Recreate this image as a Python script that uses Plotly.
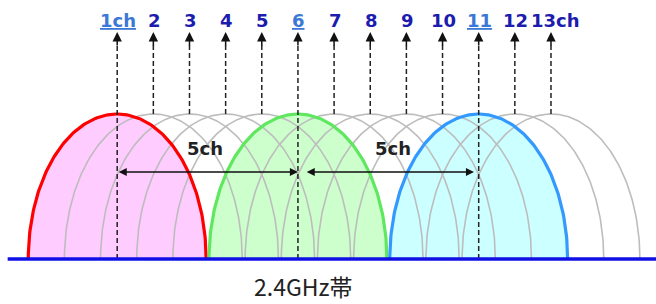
import numpy as np
import plotly.graph_objects as go

# ---- data ----
channels = list(range(1, 14))
channel_labels = ["1ch", "2", "3", "4", "5", "6", "7", "8", "9", "10", "11", "12", "13ch"]
main_channels = [1, 6, 11]
main_fill = ["#ffccff", "#ccffcc", "#ccffff"]
main_line = ["#ff0000", "#5fe85f", "#3399ff"]
gap_pairs = [(1, 6), (6, 11)]
gap_text = "5ch"
band_label = "2.4GHz帯"

# ---- geometry constants (channel units / pixel-like units) ----
HALF = 2.46      # half width of a channel lobe in channel units
H = 145          # lobe height
ARROW_TIP = 227
DASH_TOP = 214
LABEL_Y = 239
GAP_Y = 87
GAP_TEXT_Y = 111

t = np.linspace(0, np.pi, 160)

fig = go.Figure()

# fills of main channels
for c, fc in zip(main_channels, main_fill):
    fig.add_trace(go.Scatter(x=c + HALF * np.cos(t), y=H * np.sin(t), mode="lines",
                             fill="toself", fillcolor=fc, line=dict(width=0),
                             hoverinfo="skip"))

# gray outlines of other channels
for c in channels:
    if c in main_channels:
        continue
    fig.add_trace(go.Scatter(x=c + HALF * np.cos(t), y=H * np.sin(t), mode="lines",
                             line=dict(color="#bdbdbd", width=1.6), hoverinfo="skip"))

# colored outlines
for c, lc in zip(main_channels, main_line):
    fig.add_trace(go.Scatter(x=c + HALF * np.cos(t), y=H * np.sin(t), mode="lines",
                             line=dict(color=lc, width=3.2), hoverinfo="skip"))

# dashed vertical lines
for c in channels:
    y0 = 0 if c in main_channels else H
    fig.add_trace(go.Scatter(x=[c, c], y=[y0, DASH_TOP], mode="lines",
                             line=dict(color="#222222", width=1.5, dash="5px,3px"),
                             hoverinfo="skip"))

# baseline
fig.add_trace(go.Scatter(x=[-2.03, 16.5], y=[0, 0], mode="lines",
                         line=dict(color="#1010e6", width=3.6), hoverinfo="skip"))

annotations = []
for c, lab in zip(channels, channel_labels):
    # arrow heads
    annotations.append(dict(x=c, y=ARROW_TIP, ax=c, ay=DASH_TOP - 2, xref="x", yref="y",
                            axref="x", ayref="y", text="", showarrow=True, arrowhead=2,
                            arrowsize=1.25, arrowwidth=1.5, arrowcolor="#111111", standoff=0))
    main = c in main_channels
    annotations.append(dict(x=c, y=LABEL_Y, xref="x", yref="y", showarrow=False,
                            text=f"<u>{lab}</u>" if main else lab,
                            xshift=5 if lab.endswith("ch") and c != 1 else 1,
                            font=dict(family="DejaVu Sans", size=18,
                                      color="#3a78d8" if main else "#1c1cae",
                                      weight="bold"),
                            xanchor="center", yanchor="middle"))

for i, (a, b) in enumerate(gap_pairs):
    start = a + (0.0 if i == 0 else 0.2)
    end = b - (0.0 if i == 0 else 0.13)
    annotations.append(dict(x=end, y=GAP_Y, ax=start, ay=GAP_Y, xref="x", yref="y",
                            axref="x", ayref="y", text="", showarrow=True,
                            arrowhead=2, startarrowhead=2, arrowside="end+start",
                            arrowsize=1.15, startarrowsize=1.15, arrowwidth=1.4,
                            arrowcolor="#111111", standoff=0, startstandoff=0))
    annotations.append(dict(x=(a + b) / 2 - 0.07 + 0.2 * i, y=GAP_TEXT_Y, xref="x", yref="y",
                            showarrow=False, text=gap_text,
                            font=dict(family="DejaVu Sans", size=18, color="#222222",
                                      weight="bold")))

annotations.append(dict(x=302.5 / 656, y=0, xref="paper", yref="paper", yanchor="bottom",
                        showarrow=False, text=band_label, borderpad=0,
                        font=dict(family="Noto Sans CJK JP", size=23, color="#222222")))

fig.update_layout(
    width=656, height=304,
    margin=dict(l=0, r=0, t=0, b=0),
    paper_bgcolor="white", plot_bgcolor="white",
    showlegend=False, hovermode=False,
    xaxis=dict(range=[-2.242, 15.905], visible=False, fixedrange=True),
    yaxis=dict(range=[-45, 259], visible=False, fixedrange=True),
    annotations=annotations,
)

fig.write_html("out.html", config={"displayModeBar": False},
               post_script="document.body.style.margin='0';")
